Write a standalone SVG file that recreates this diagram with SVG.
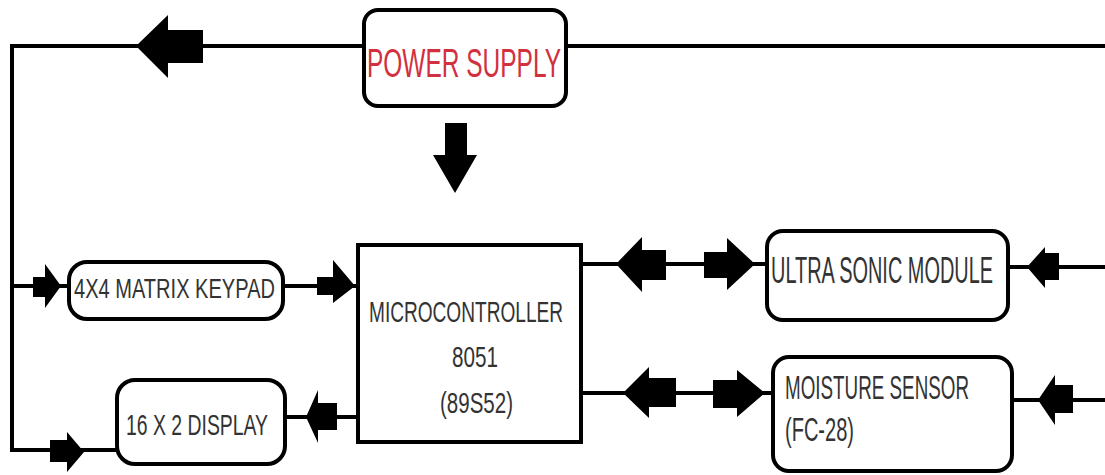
<svg xmlns="http://www.w3.org/2000/svg" width="1105" height="475" viewBox="0 0 1105 475">
<style>
.ln{stroke:#000;stroke-width:4;fill:none}
.box{stroke:#000;stroke-width:4;fill:#fff}
.ar{fill:#000}
.t{font-family:"Liberation Sans Narrow","Liberation Sans",Arial,sans-serif;fill:#333}
</style>
<rect width="1105" height="475" fill="#fff"/>
<g id="connectors">
<polyline class="ln" points="364,46 12,46 12,450 117,450"/>
<line class="ln" x1="566" y1="46" x2="1105" y2="46"/>
<line class="ln" x1="12" y1="286" x2="69" y2="286"/>
<line class="ln" x1="283" y1="286" x2="358" y2="286"/>
<line class="ln" x1="285" y1="417" x2="358" y2="417"/>
<line class="ln" x1="581" y1="264" x2="767" y2="264"/>
<line class="ln" x1="581" y1="393" x2="773" y2="393"/>
<line class="ln" x1="1008" y1="267" x2="1105" y2="267"/>
<line class="ln" x1="1012" y1="400" x2="1105" y2="400"/>
<polygon class="ar" points="136,46 168,15 168,30 203,30 203,63 168,63 168,78"/>
<polygon class="ar" points="445,123 467,123 467,155 477,155 455,193 433,155 445,155"/>
<polygon class="ar" points="33,277 45,277 45,264 61,286 45,308 45,297 33,297"/>
<polygon class="ar" points="317,277 333,277 333,260 355,286 333,303 333,295 317,295"/>
<polygon class="ar" points="306,417 318,390 318,403 337,403 337,430 318,430 318,443"/>
<polygon class="ar" points="50,440 67,440 67,432 84,452 67,472 67,462 50,462"/>
<polygon class="ar" points="616,264 642,237 642,250 666,250 666,280 642,280 642,292"/>
<polygon class="ar" points="704,252 727,252 727,238 755,264 727,290 727,278 704,278"/>
<polygon class="ar" points="1027,267 1045,247 1045,253 1059,253 1059,280 1045,280 1045,288"/>
<polygon class="ar" points="623,393 649,367 649,378 676,378 676,407 649,407 649,418"/>
<polygon class="ar" points="713,380 737,380 737,370 765,393 737,417 737,408 713,408"/>
<polygon class="ar" points="1038,400 1055,375 1055,385 1073,385 1073,413 1055,413 1055,425"/>
</g>
<g id="power">
<rect class="box" x="364" y="10" width="202" height="96" rx="14"/>
<text class="t" x="367" y="77" font-size="40" textLength="194" lengthAdjust="spacingAndGlyphs" style="fill:#d2303e">POWER SUPPLY</text>
</g>
<g id="keypad">
<rect class="box" x="69" y="262" width="214" height="57" rx="18"/>
<text class="t" x="74" y="298" font-size="28" textLength="201" lengthAdjust="spacingAndGlyphs">4X4 MATRIX KEYPAD</text>
</g>
<g id="mcu">
<rect x="358" y="245" width="223" height="197" fill="#fff" stroke="#000" stroke-width="4"/>
<text class="t" x="369" y="322" font-size="29" textLength="194" lengthAdjust="spacingAndGlyphs">MICROCONTROLLER</text>
<text class="t" x="452" y="367" font-size="29" textLength="46" lengthAdjust="spacingAndGlyphs">8051</text>
<text class="t" x="440" y="413" font-size="29" textLength="73" lengthAdjust="spacingAndGlyphs">(89S52)</text>
</g>
<g id="display">
<rect class="box" x="117" y="380" width="168" height="84" rx="18"/>
<text class="t" x="126" y="435" font-size="30" textLength="142" lengthAdjust="spacingAndGlyphs">16 X 2 DISPLAY</text>
</g>
<g id="ultrasonic">
<rect class="box" x="767" y="231" width="241" height="89" rx="16"/>
<text class="t" x="771" y="283" font-size="36" textLength="222" lengthAdjust="spacingAndGlyphs">ULTRA SONIC MODULE</text>
</g>
<g id="moisture">
<rect class="box" x="773" y="357" width="239" height="114" rx="16"/>
<text class="t" x="785" y="399" font-size="33" textLength="184" lengthAdjust="spacingAndGlyphs">MOISTURE SENSOR</text>
<text class="t" x="785" y="441" font-size="33" textLength="69" lengthAdjust="spacingAndGlyphs">(FC-28)</text>
</g>
</svg>
